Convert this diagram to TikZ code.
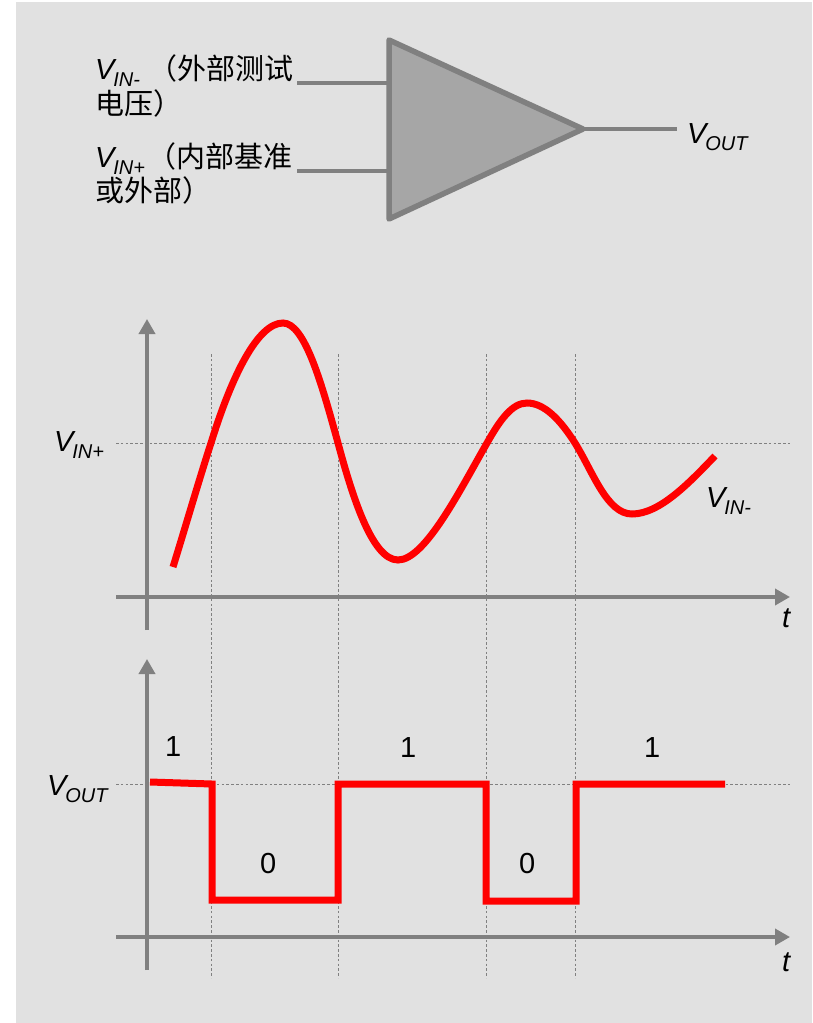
\documentclass[tikz,border=0pt]{standalone}
\usepackage{fontspec}
\setmainfont{Liberation Sans}
\newfontfamily\cjk{Noto Sans CJK SC}
\usetikzlibrary{arrows.meta}
\definecolor{bgc}{HTML}{E1E1E1}
\definecolor{axc}{HTML}{808080}
\definecolor{triC}{HTML}{A6A6A6}
\newcommand{\Vsub}[1]{{\itshape V\kern-1pt\raisebox{-0.27em}{\fontsize{20}{20}\selectfont #1}}}
\tikzset{
  x=1pt,y=-1pt,
  lbl/.style={inner sep=0pt,outer sep=0pt,font=\fontsize{29}{34}\selectfont,anchor=base west},
  wire/.style={draw=axc,line width=4.5pt},
  axis/.style={draw=axc,line width=3.6pt,-{Triangle[length=15pt,width=16pt]}},
  guide/.style={draw=axc,line width=0.9pt,dash pattern=on 2.6pt off 2.2pt},
  wave/.style={draw=red,line width=7pt},
}
\begin{document}
\begin{tikzpicture}
\useasboundingbox (0,0) rectangle (812,1023);
\fill[bgc] (16,2) rectangle (812,1023);
% guides
\foreach \n/\x in {a/211,b/338,c/486,d/575}{
  \coordinate (g\n t) at (\x,354);
  \coordinate (g\n b) at (\x,978);
  \draw[guide] (g\n t) -- (g\n b);
}
\coordinate (hAl) at (116,443); \coordinate (hAr) at (790,443);
\coordinate (hBl) at (116,784); \coordinate (hBr) at (790,784);
\draw[guide] (hAl) -- (hAr);
\draw[guide] (hBl) -- (hBr);
% comparator
\coordinate (triA) at (389,40); \coordinate (triB) at (389,219); \coordinate (triC) at (583,129);
\coordinate (in1) at (297,83); \coordinate (in1e) at (389,83);
\coordinate (in2) at (297,171); \coordinate (in2e) at (389,171);
\coordinate (outE) at (677,129);
\draw[wire] (in1) -- (in1e);
\draw[wire] (in2) -- (in2e);
\draw[wire] (triC) -- (outE);
\draw[draw=axc,fill=triC,line width=5.5pt,line join=round] (triA) -- (triC) -- (triB) -- cycle;
% axes
\coordinate (y1b) at (147,630); \coordinate (y1t) at (147,319);
\coordinate (x1l) at (116,597); \coordinate (x1r) at (790,597);
\coordinate (y2b) at (147,970); \coordinate (y2t) at (147,659);
\coordinate (x2l) at (116,937); \coordinate (x2r) at (790,937);
\draw[axis] (y1b) -- (y1t);
\draw[axis] (x1l) -- (x1r);
\draw[axis] (y2b) -- (y2t);
\draw[axis] (x2l) -- (x2r);
% analog curve
\draw[wave] (173,567) .. controls (186,525) and (199,480) .. (211,443)
  .. controls (232,375) and (258,323) .. (283,323)
  .. controls (305,323) and (322,385) .. (338,443)
  .. controls (352,495) and (372,560) .. (398,560)
  .. controls (425,560) and (460,490) .. (487,443)
  .. controls (500,420) and (512,403) .. (527,403)
  .. controls (545,403) and (561,421) .. (575,443)
  .. controls (593,472) and (607,514) .. (632,514)
  .. controls (660,514) and (690,482) .. (715,456);
% digital output
\draw[wave] (150,782) -- (212,784) -- (212,900) -- (338,900) -- (338,784)
  -- (486,784) -- (486,901) -- (576,901) -- (576,784) -- (725,784);
% labels
\node[lbl] (lA1) at (95,79) {\Vsub{IN-} {\cjk （外部测试}};
\node[lbl] (lA2) at (95,114) {\cjk 电压）};
\node[lbl] (lB1) at (95,167) {\Vsub{IN+}{\cjk\kern2pt （内部基准}};
\node[lbl] (lB2) at (95,201) {\cjk 或外部）};
\node[lbl] (lOut) at (687,143) {\Vsub{OUT}};
\node[lbl] (lIp) at (54,451) {\Vsub{IN+}};
\node[lbl] (lIm) at (706,507) {\Vsub{IN-}};
\node[lbl] (lOut2) at (47,795) {\Vsub{OUT}};
\node[lbl] (t1) at (782,627) {\itshape t};
\node[lbl] (t2) at (782,971) {\itshape t};
\node[lbl] (o1) at (165,756) {1};
\node[lbl] (o2) at (400,757) {1};
\node[lbl] (o3) at (644,757) {1};
\node[lbl] (z1) at (260,873) {0};
\node[lbl] (z2) at (519,873) {0};
\end{tikzpicture}
\end{document}
